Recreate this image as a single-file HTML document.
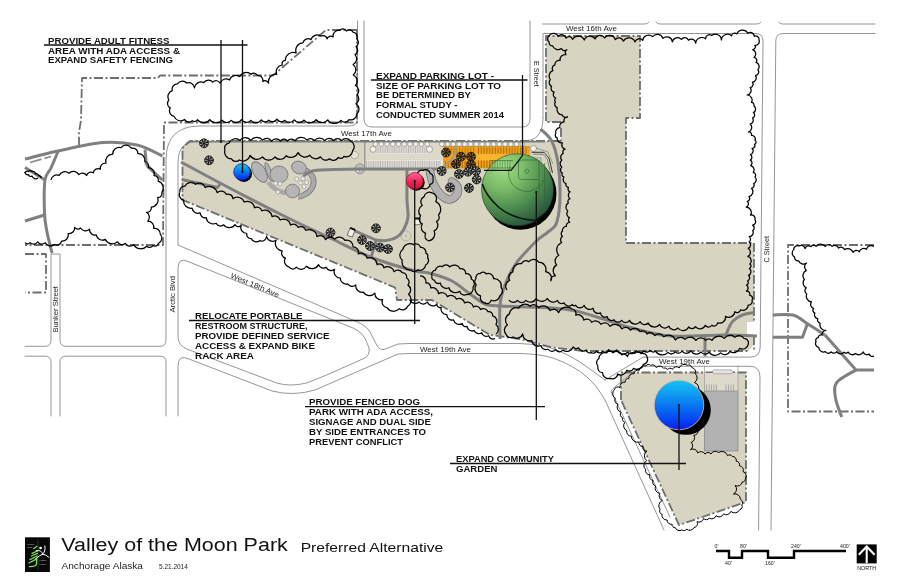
<!DOCTYPE html>
<html lang="en"><head><meta charset="utf-8"><title>Valley of the Moon Park - Preferred Alternative</title>
<style>html,body{margin:0;padding:0;background:#fff}svg{display:block;will-change:transform;font-family:"Liberation Sans",sans-serif}.ann text{font-weight:bold;font-family:"Liberation Sans",sans-serif}</style></head><body>
<svg width="900" height="579" viewBox="0 0 900 579">
<defs>
<linearGradient id="gBlue" x1="0.5" y1="0" x2="0.5" y2="1"><stop offset="0" stop-color="#12c6f6"/><stop offset="0.5" stop-color="#0a78f0"/><stop offset="1" stop-color="#0620f4"/></linearGradient>
<linearGradient id="gRed" x1="0.5" y1="0" x2="0.5" y2="1"><stop offset="0" stop-color="#ff6aa0"/><stop offset="0.5" stop-color="#f2285e"/><stop offset="1" stop-color="#d80836"/></linearGradient>
<radialGradient id="gGreen" cx="0.3" cy="0.2" r="0.92"><stop offset="0" stop-color="#a2da86"/><stop offset="0.3" stop-color="#7dbd6a"/><stop offset="0.6" stop-color="#4f8f50"/><stop offset="0.85" stop-color="#2f6140"/><stop offset="1" stop-color="#224a35"/></radialGradient>
<clipPath id="clipMap"><rect x="25" y="0" width="850" height="531"/></clipPath>
</defs>
<rect width="900" height="579" fill="#fff"/>
<polygon points="182.0,147.0 187.0,141.0 561.0,141.0 561.0,122.0 546.0,122.0 546.0,36.0 640.0,36.0 640.0,118.0 626.0,118.0 626.0,243.0 754.0,243.0 754.0,322.0 747.0,322.0 747.0,336.0 754.0,336.0 754.0,345.0 748.0,351.0 583.0,351.0 553.0,347.0 520.0,338.0 490.0,335.0 432.0,300.0 397.0,300.0 395.0,287.5 182.0,200.0" fill="#d7d4c1"/>
<polygon points="621.0,372.5 746.0,372.5 746.0,502.0 679.0,525.0 621.0,400.0" fill="#d7d4c1"/>
<g id="roads" fill="none" stroke="#8a8a8a" stroke-width="0.90" stroke-linecap="round" stroke-linejoin="round">
<path d="M542.5,24H645Q648,24 649,22"/>
<path d="M656,22Q657,24 660,24H757Q760,24 761,22"/>
<path d="M778.5,22Q779.5,24 782.5,24H875"/>
<path d="M543,118V33.5H756Q763,33.5 763,41L760.2,347Q760.1,357.1 750,357.1H643L635,362L605,380"/>
<path d="M875,33.5H783Q775.9,33.5 775.8,41L771,530"/>
<path d="M758.6,530L760,377Q760,366.3 750,366.3H645L637,369L613,388.5Q610,391 611.5,393.5L616,401L670,517"/>
<path d="M530,21V119Q530,127 522,127H372Q364,127 364,119V21"/>
<path d="M543,118Q543,141 524,141"/>
<path d="M357.5,21V118Q357.5,126 349.5,126H200Q166,126 166,160V340Q166,346.3 160,346.3H66Q60,346.3 60,340V254H51V340Q51,346.3 45,346.3H25"/>
<path d="M25,356.2H45Q51,356.2 51,362V416"/>
<path d="M60,416V362Q60,356.2 66,356.2H160Q166,356.2 166,362V416"/>
<path d="M178,245V162Q178,141 199,141"/>
<path d="M178,416V366Q178,354 189,359L272,391Q293,396.5 315,390L398,354L410,353.5H520Q540,354 553,358Q575,366 587,377Q596,385 600,392L605,400L664,530"/>
<path d="M178,245L356.7,321.7Q367,326 370,332L376.7,345Q379,350 384,349.5L398,344L410,343.5H520Q536,344 548,347Q570,354 587,367L605,380"/>
<path d="M178,268Q178,257 188,261.5L353,328Q364,333 367,343Q372,352 366,357.5L326.7,375L306.7,383Q290,387 276.7,383L188,349.5Q178,346 178,337Z"/>
</g>
<polyline points="357.0,30.0 340.0,30.0 326.0,30.0 273.0,75.5 160.0,75.5 158.0,78.0 82.0,78.0 81.0,120.0 79.0,132.0 79.0,148.0" fill="none" stroke="#6e6e6e" stroke-width="1.80" stroke-linejoin="round" stroke-dasharray="9 2.5 2 2.5"/>
<polyline points="357.0,30.0 357.0,122.5 164.0,122.5 163.0,245.0 25.0,245.0" fill="none" stroke="#6e6e6e" stroke-width="1.80" stroke-linejoin="round" stroke-dasharray="9 2.5 2 2.5"/>
<polyline points="25.0,254.0 46.0,254.0 46.0,292.5 25.0,292.5" fill="none" stroke="#6e6e6e" stroke-width="1.80" stroke-linejoin="round" stroke-dasharray="9 2.5 2 2.5"/>
<polyline points="561.0,141.0 190.0,141.0 182.5,148.0 182.5,200.0 395.0,287.5 397.0,300.0 432.0,300.0 490.0,335.0 520.0,339.0 553.0,347.5 583.0,351.0 748.0,351.0" fill="none" stroke="#6e6e6e" stroke-width="1.80" stroke-linejoin="round" stroke-dasharray="9 2.5 2 2.5"/>
<polyline points="561.0,128.0 561.0,141.0" fill="none" stroke="#6e6e6e" stroke-width="1.80" stroke-linejoin="round" stroke-dasharray="9 2.5 2 2.5"/>
<polyline points="561.0,122.0 546.0,122.0 546.0,36.0 640.0,36.0 640.0,118.0 626.0,118.0 626.0,243.0 754.0,243.0 754.0,322.0" fill="none" stroke="#6e6e6e" stroke-width="1.80" stroke-linejoin="round" stroke-dasharray="9 2.5 2 2.5"/>
<polyline points="754.0,336.0 754.0,350.0" fill="none" stroke="#6e6e6e" stroke-width="1.80" stroke-linejoin="round" stroke-dasharray="9 2.5 2 2.5"/>
<polyline points="874.0,245.0 788.0,245.0 788.0,411.5 874.0,411.5" fill="none" stroke="#6e6e6e" stroke-width="1.80" stroke-linejoin="round" stroke-dasharray="9 2.5 2 2.5"/>
<polyline points="621.0,400.0 621.0,372.5 746.0,372.5 746.0,502.0 679.0,525.0 621.0,400.0" fill="none" stroke="#6e6e6e" stroke-width="1.80" stroke-linejoin="round" stroke-dasharray="9 2.5 2 2.5"/>
<rect x="365" y="142.5" width="78" height="26.5" fill="#dcd9c9"/>
<rect x="443" y="146.5" width="87" height="21.5" fill="#f2a11a"/>
<rect x="476" y="153.5" width="52" height="7" fill="#f8b530"/>
<rect x="365.5" y="160.5" width="77" height="7.5" fill="#efeee8"/>
<rect x="376" y="146.8" width="53" height="6.6" fill="#efeee8"/>
<path d="M366.5,161.0V168.0M368.2,161.0V168.0M370.0,161.0V168.0M371.8,161.0V168.0M373.5,161.0V168.0M375.2,161.0V168.0M377.0,161.0V168.0M378.8,161.0V168.0M380.5,161.0V168.0M382.2,161.0V168.0M384.0,161.0V168.0M385.8,161.0V168.0M387.5,161.0V168.0M389.2,161.0V168.0M391.0,161.0V168.0M392.8,161.0V168.0M394.5,161.0V168.0M396.2,161.0V168.0M398.0,161.0V168.0M399.8,161.0V168.0M401.5,161.0V168.0M403.2,161.0V168.0M405.0,161.0V168.0M406.8,161.0V168.0M408.5,161.0V168.0M410.2,161.0V168.0M412.0,161.0V168.0M413.8,161.0V168.0M415.5,161.0V168.0M417.2,161.0V168.0M419.0,161.0V168.0M420.8,161.0V168.0M422.5,161.0V168.0M424.2,161.0V168.0M426.0,161.0V168.0M427.8,161.0V168.0M429.5,161.0V168.0M431.2,161.0V168.0M433.0,161.0V168.0M434.8,161.0V168.0M436.5,161.0V168.0M438.2,161.0V168.0M440.0,161.0V168.0" stroke="#8f8f8f" stroke-width="0.60" fill="none"/>
<path d="M377.0,147.0V153.0M378.8,147.0V153.0M380.5,147.0V153.0M382.2,147.0V153.0M384.0,147.0V153.0M385.8,147.0V153.0M387.5,147.0V153.0M389.2,147.0V153.0M391.0,147.0V153.0M392.8,147.0V153.0M394.5,147.0V153.0M396.2,147.0V153.0M398.0,147.0V153.0M399.8,147.0V153.0M401.5,147.0V153.0M403.2,147.0V153.0M405.0,147.0V153.0M406.8,147.0V153.0M408.5,147.0V153.0M410.2,147.0V153.0M412.0,147.0V153.0M413.8,147.0V153.0M415.5,147.0V153.0M417.2,147.0V153.0M419.0,147.0V153.0M420.8,147.0V153.0M422.5,147.0V153.0M424.2,147.0V153.0M426.0,147.0V153.0M427.8,147.0V153.0" stroke="#8f8f8f" stroke-width="0.60" fill="none"/>
<path d="M445.5,161.0V168.0M448.3,161.0V168.0M451.1,161.0V168.0M453.9,161.0V168.0M456.7,161.0V168.0M459.5,161.0V168.0M462.3,161.0V168.0M465.1,161.0V168.0M467.9,161.0V168.0M470.7,161.0V168.0M473.5,161.0V168.0" stroke="#a86800" stroke-width="0.90" fill="none"/>
<path d="M478.5,147.5V154.0M481.3,147.5V154.0M484.1,147.5V154.0M486.9,147.5V154.0M489.7,147.5V154.0M492.5,147.5V154.0M495.3,147.5V154.0M498.1,147.5V154.0M500.9,147.5V154.0M503.7,147.5V154.0M506.5,147.5V154.0M509.3,147.5V154.0M512.1,147.5V154.0M514.9,147.5V154.0M517.7,147.5V154.0M520.5,147.5V154.0M523.3,147.5V154.0M526.1,147.5V154.0" stroke="#a86800" stroke-width="0.90" fill="none"/>
<path d="M478.5,160.5V167.5M481.3,160.5V167.5M484.1,160.5V167.5M486.9,160.5V167.5M489.7,160.5V167.5M492.5,160.5V167.5M495.3,160.5V167.5M498.1,160.5V167.5M500.9,160.5V167.5M503.7,160.5V167.5M506.5,160.5V167.5M509.3,160.5V167.5M512.1,160.5V167.5M514.9,160.5V167.5M517.7,160.5V167.5M520.5,160.5V167.5M523.3,160.5V167.5M526.1,160.5V167.5" stroke="#a86800" stroke-width="0.90" fill="none"/>
<path d="M445.5,147.5V154.0M448.3,147.5V154.0M451.1,147.5V154.0M453.9,147.5V154.0M456.7,147.5V154.0M459.5,147.5V154.0M462.3,147.5V154.0M465.1,147.5V154.0M467.9,147.5V154.0M470.7,147.5V154.0M473.5,147.5V154.0" stroke="#b87400" stroke-width="0.90" fill="none"/>
<polyline points="364.8,141.5 364.8,169.0" fill="none" stroke="#8a8a8a" stroke-width="1.20" stroke-linejoin="round" />
<polyline points="443.0,146.5 530.0,146.5" fill="none" stroke="#c98500" stroke-width="0.70" stroke-linejoin="round" />
<polyline points="443.0,168.0 530.0,168.0" fill="none" stroke="#c98500" stroke-width="0.70" stroke-linejoin="round" />
<polyline points="189.0,141.6 545.0,141.6" fill="none" stroke="#7d7d7d" stroke-width="1.70" stroke-linejoin="round" />
<circle cx="375.5" cy="144.2" r="2.3" fill="#f4f3ee" stroke="#777" stroke-width="0.6"/>
<circle cx="381.2" cy="144.2" r="2.3" fill="#f4f3ee" stroke="#777" stroke-width="0.6"/>
<circle cx="387.0" cy="144.2" r="2.3" fill="#f4f3ee" stroke="#777" stroke-width="0.6"/>
<circle cx="392.8" cy="144.2" r="2.3" fill="#f4f3ee" stroke="#777" stroke-width="0.6"/>
<circle cx="398.5" cy="144.2" r="2.3" fill="#f4f3ee" stroke="#777" stroke-width="0.6"/>
<circle cx="404.2" cy="144.2" r="2.3" fill="#f4f3ee" stroke="#777" stroke-width="0.6"/>
<circle cx="410.0" cy="144.2" r="2.3" fill="#f4f3ee" stroke="#777" stroke-width="0.6"/>
<circle cx="415.8" cy="144.2" r="2.3" fill="#f4f3ee" stroke="#777" stroke-width="0.6"/>
<circle cx="421.5" cy="144.2" r="2.3" fill="#f4f3ee" stroke="#777" stroke-width="0.6"/>
<circle cx="427.2" cy="144.2" r="2.3" fill="#f4f3ee" stroke="#777" stroke-width="0.6"/>
<circle cx="441.8" cy="144.2" r="2.3" fill="#f4f3ee" stroke="#777" stroke-width="0.6"/>
<circle cx="447.6" cy="144.2" r="2.3" fill="#f4f3ee" stroke="#777" stroke-width="0.6"/>
<circle cx="453.3" cy="144.2" r="2.3" fill="#f4f3ee" stroke="#777" stroke-width="0.6"/>
<circle cx="459.1" cy="144.2" r="2.3" fill="#f4f3ee" stroke="#777" stroke-width="0.6"/>
<circle cx="464.8" cy="144.2" r="2.3" fill="#f4f3ee" stroke="#777" stroke-width="0.6"/>
<circle cx="470.6" cy="144.2" r="2.3" fill="#f4f3ee" stroke="#777" stroke-width="0.6"/>
<circle cx="476.3" cy="144.2" r="2.3" fill="#f4f3ee" stroke="#777" stroke-width="0.6"/>
<circle cx="482.1" cy="144.2" r="2.3" fill="#f4f3ee" stroke="#777" stroke-width="0.6"/>
<circle cx="487.8" cy="144.2" r="2.3" fill="#f4f3ee" stroke="#777" stroke-width="0.6"/>
<circle cx="493.6" cy="144.2" r="2.3" fill="#f4f3ee" stroke="#777" stroke-width="0.6"/>
<circle cx="499.3" cy="144.2" r="2.3" fill="#f4f3ee" stroke="#777" stroke-width="0.6"/>
<circle cx="505.1" cy="144.2" r="2.3" fill="#f4f3ee" stroke="#777" stroke-width="0.6"/>
<circle cx="510.8" cy="144.2" r="2.3" fill="#f4f3ee" stroke="#777" stroke-width="0.6"/>
<circle cx="516.5" cy="144.2" r="2.3" fill="#f4f3ee" stroke="#777" stroke-width="0.6"/>
<circle cx="522.3" cy="144.2" r="2.3" fill="#f4f3ee" stroke="#777" stroke-width="0.6"/>
<circle cx="373.0" cy="149.3" r="3" fill="#f4f3ee" stroke="#777" stroke-width="0.6"/>
<circle cx="429.5" cy="149.3" r="3" fill="#f4f3ee" stroke="#777" stroke-width="0.6"/>
<circle cx="533.5" cy="148.5" r="3" fill="#f4f3ee" stroke="#777" stroke-width="0.6"/>
<path d="M305,170Q315,175 313.5,184Q311,194 298,197" fill="none" stroke="#767676" stroke-width="5.60" stroke-linejoin="round" />
<path d="M305,170Q315,175 313.5,184Q311,194 298,197" fill="none" stroke="#aaaaaa" stroke-width="4.20" stroke-linejoin="round" />
<path d="M268,182Q274,191 286,193" fill="none" stroke="#a9a9a9" stroke-width="4.50" stroke-linejoin="round" />
<ellipse cx="259.5" cy="172.0" rx="6.0" ry="11.5" transform="rotate(-32 259.5 172.0)" fill="#b5b5b5" stroke="#787878" stroke-width="0.90"/>
<ellipse cx="269.0" cy="172.0" rx="2.4" ry="10.0" transform="rotate(-20 269.0 172.0)" fill="#b5b5b5" stroke="#787878" stroke-width="0.90"/>
<ellipse cx="279.0" cy="174.5" rx="9.0" ry="8.5" transform="rotate(0 279.0 174.5)" fill="#b5b5b5" stroke="#787878" stroke-width="0.90"/>
<ellipse cx="299.0" cy="167.5" rx="7.5" ry="6.2" transform="rotate(20 299.0 167.5)" fill="#b5b5b5" stroke="#787878" stroke-width="0.90"/>
<ellipse cx="292.5" cy="191.0" rx="7.0" ry="6.8" transform="rotate(0 292.5 191.0)" fill="#b5b5b5" stroke="#787878" stroke-width="0.90"/>
<circle cx="296.7" cy="179.0" r="2" fill="#efeee6" stroke="#7f7f7f" stroke-width="0.5"/>
<circle cx="303.0" cy="178.7" r="2" fill="#efeee6" stroke="#7f7f7f" stroke-width="0.5"/>
<circle cx="300.8" cy="183.0" r="2" fill="#efeee6" stroke="#7f7f7f" stroke-width="0.5"/>
<circle cx="306.7" cy="182.5" r="2" fill="#efeee6" stroke="#7f7f7f" stroke-width="0.5"/>
<circle cx="304.0" cy="186.5" r="2" fill="#efeee6" stroke="#7f7f7f" stroke-width="0.5"/>
<circle cx="275.8" cy="183.3" r="2" fill="#efeee6" stroke="#7f7f7f" stroke-width="0.5"/>
<circle cx="280.0" cy="183.7" r="2" fill="#efeee6" stroke="#7f7f7f" stroke-width="0.5"/>
<circle cx="278.0" cy="192.0" r="2" fill="#efeee6" stroke="#7f7f7f" stroke-width="0.5"/>
<ellipse cx="360.0" cy="168.8" rx="5.0" ry="5.0" transform="rotate(0 360.0 168.8)" fill="#bdbdbd" stroke="#858585" stroke-width="0.80"/>
<circle cx="354.7" cy="155" r="3.8" fill="#e6e4d8" stroke="#8a8a8a" stroke-width="0.6"/>
<circle cx="357.5" cy="171" r="1.6" fill="#e6e4d8" stroke="#8a8a8a" stroke-width="0.5"/>
<circle cx="406" cy="236" r="5" fill="none" stroke="#9a9a9a" stroke-width="0.6"/>
<circle cx="406" cy="236" r="0.8" fill="#9a9a9a"/>
<path d="M25.0,159.0C30.5,157.7 45.0,153.8 58.0,151.0C71.0,148.2 89.8,143.5 103.0,142.5C116.2,141.5 127.1,142.8 137.0,145.0C146.9,147.2 158.2,154.2 162.5,156.0" fill="none" stroke="#808080" stroke-width="3.00" stroke-linejoin="round" />
<path d="M58.0,151.5C56.8,154.2 53.2,163.2 51.0,168.0C48.8,172.8 46.1,172.5 45.0,180.0C43.9,187.5 44.2,204.3 44.5,213.0C44.8,221.7 45.8,225.3 47.0,232.0C48.2,238.7 51.2,249.5 52.0,253.0" fill="none" stroke="#808080" stroke-width="3.00" stroke-linejoin="round" />
<polyline points="25.0,167.5 45.0,180.0" fill="none" stroke="#808080" stroke-width="3.00" stroke-linejoin="round" />
<polyline points="25.0,221.0 44.5,215.0" fill="none" stroke="#808080" stroke-width="3.00" stroke-linejoin="round" />
<polyline points="30.0,162.5 51.0,156.5" fill="none" stroke="#8a8a8a" stroke-width="1.80" stroke-linejoin="round" stroke-dasharray="12 3"/>
<path d="M145.0,149.5C145.2,151.2 145.6,157.2 146.0,160.0C146.4,162.8 144.8,162.7 147.5,166.0C150.2,169.3 160.0,177.7 162.5,180.0" fill="none" stroke="#808080" stroke-width="3.00" stroke-linejoin="round" />
<path d="M181.0,162.0C187.5,165.5 203.5,174.3 220.0,183.0C236.5,191.7 261.7,204.8 280.0,214.0C298.3,223.2 314.5,230.7 330.0,238.0C345.5,245.3 358.8,252.5 373.0,258.0C387.2,263.5 405.7,268.5 415.0,271.0C424.3,273.5 422.8,271.3 429.0,273.0C435.2,274.7 445.2,277.5 452.0,281.0C458.8,284.5 464.5,290.2 470.0,294.0C475.5,297.8 480.0,302.0 485.0,304.0C490.0,306.0 486.8,305.2 500.0,306.0C513.2,306.8 547.3,307.0 564.0,309.0C580.7,311.0 589.0,314.9 600.0,318.0C611.0,321.1 618.3,324.5 630.0,327.5C641.7,330.5 654.2,334.8 670.0,336.0C685.8,337.2 710.5,335.0 725.0,335.0C739.5,335.0 751.7,335.8 757.0,336.0" fill="none" stroke="#808080" stroke-width="3.00" stroke-linejoin="round" />
<polyline points="181.7,179.5 217.5,187.5 220.5,183.3" fill="none" stroke="#808080" stroke-width="3.00" stroke-linejoin="round" />
<path d="M303.0,176.0C304.2,175.3 307.2,173.0 310.0,172.0C312.8,171.0 311.7,170.5 320.0,170.0C328.3,169.5 345.5,169.2 360.0,169.0C374.5,168.8 393.7,169.0 407.0,169.0C420.3,169.0 434.5,169.0 440.0,169.0" fill="none" stroke="#808080" stroke-width="3.00" stroke-linejoin="round" />
<path d="M407.0,169.0C407.0,174.2 406.8,192.0 407.0,200.0C407.2,208.0 408.5,212.2 408.0,217.0C407.5,221.8 405.8,225.7 404.0,229.0C402.2,232.3 400.0,235.1 397.0,237.0C394.0,238.9 389.5,240.0 386.0,240.5C382.5,241.0 377.7,240.1 376.0,240.0" fill="none" stroke="#808080" stroke-width="3.00" stroke-linejoin="round" />
<polyline points="376.0,241.0 371.0,257.5" fill="none" stroke="#808080" stroke-width="3.00" stroke-linejoin="round" />
<polyline points="377.0,240.5 353.0,230.0" fill="none" stroke="#808080" stroke-width="3.00" stroke-linejoin="round" />
<path d="M540.5,129.0C542.4,131.0 548.8,135.3 551.7,141.0C554.6,146.7 556.6,153.7 558.0,163.0C559.4,172.3 560.2,187.0 560.0,197.0C559.8,207.0 558.5,217.2 556.5,223.0C554.5,228.8 551.2,229.2 548.0,232.0C544.8,234.8 541.5,236.3 537.5,240.0C533.5,243.7 527.8,249.8 524.0,254.0C520.2,258.2 518.2,259.8 515.0,265.0C511.8,270.2 507.5,278.3 505.0,285.0C502.5,291.7 500.8,296.0 500.0,305.0C499.2,314.0 500.0,333.3 500.0,339.0" fill="none" stroke="#808080" stroke-width="3.00" stroke-linejoin="round" />
<path d="M456.5,146.5C455.9,148.4 455.6,154.3 453.0,158.0C450.4,161.7 443.0,166.8 441.0,168.5" fill="none" stroke="#9a9a9a" stroke-width="1.80" stroke-linejoin="round" />
<path d="M755.0,312.5C752.9,312.9 746.2,313.6 742.5,315.0C738.8,316.4 735.2,318.9 733.0,321.0C730.8,323.1 730.2,325.2 729.0,327.5C727.8,329.8 726.5,333.8 726.0,335.0" fill="none" stroke="#808080" stroke-width="3.00" stroke-linejoin="round" />
<polyline points="705.0,336.0 705.0,356.5" fill="none" stroke="#808080" stroke-width="3.00" stroke-linejoin="round" />
<path d="M773.0,315.0C776.3,315.0 787.2,313.5 793.0,315.0C798.8,316.5 802.7,320.7 808.0,324.0C813.3,327.3 822.2,333.2 825.0,335.0" fill="none" stroke="#808080" stroke-width="3.00" stroke-linejoin="round" />
<polyline points="825.0,335.0 856.0,370.0 874.0,370.0" fill="none" stroke="#808080" stroke-width="3.00" stroke-linejoin="round" />
<polyline points="772.8,337.3 802.5,337.3 807.5,323.5" fill="none" stroke="#808080" stroke-width="3.00" stroke-linejoin="round" />
<path d="M856.0,370.0C852.8,372.1 840.1,377.8 836.7,382.5C833.3,387.2 834.7,392.2 835.5,398.0C836.3,403.8 840.7,413.8 841.7,417.0" fill="none" stroke="#808080" stroke-width="3.00" stroke-linejoin="round" />
<path d="M430.0,172.0C430.5,173.8 431.3,179.3 433.0,183.0C434.7,186.7 437.3,191.2 440.0,194.0C442.7,196.8 446.2,199.3 449.0,199.5C451.8,199.7 455.1,197.1 456.5,195.0C457.9,192.9 458.2,189.2 457.5,187.0C456.8,184.8 452.9,182.4 452.0,181.5" fill="none" stroke="#6a6a6a" stroke-width="8.60" stroke-linejoin="round" stroke-linecap="round"/>
<path d="M430.0,172.0C430.5,173.8 431.3,179.3 433.0,183.0C434.7,186.7 437.3,191.2 440.0,194.0C442.7,196.8 446.2,199.3 449.0,199.5C451.8,199.7 455.1,197.1 456.5,195.0C457.9,192.9 458.2,189.2 457.5,187.0C456.8,184.8 452.9,182.4 452.0,181.5" fill="none" stroke="#b2b2b2" stroke-width="7.20" stroke-linejoin="round" stroke-linecap="round"/>
<g transform="translate(351.3,232.5) rotate(22)"><rect x="-2.8" y="-4.0" width="5.5" height="8.0" fill="#f2f1ea" stroke="#333" stroke-width="0.6"/><rect x="-2.8" y="-4.8" width="5.5" height="2.0" fill="#111"/></g>
<g transform="translate(417.5,221.5) rotate(0)"><rect x="-2.8" y="-3.2" width="5.5" height="6.5" fill="#f2f1ea" stroke="#333" stroke-width="0.6"/><rect x="-2.8" y="-4.0" width="5.5" height="2.0" fill="#111"/></g>
<g transform="translate(204.0,143.3)">
<circle r="4.4" fill="#ecebe2" fill-opacity="1.00" stroke="#111" stroke-width="0.9"/>
<path d="M0,0L-4.1,0.6L-3.9,-1.5ZM0,0L-3.1,-2.8L-1.2,-4.0ZM0,0L0.3,-4.2L2.3,-3.5ZM0,0L3.5,-2.4L4.2,-0.3ZM0,0L4.0,1.2L2.9,3.1ZM0,0L1.5,3.9L-0.6,4.1ZM0,0L-2.1,3.6L-3.6,2.1Z" fill="#111" stroke="#111" stroke-width="0.3"/>
</g>
<g transform="translate(209.0,160.3)">
<circle r="4.4" fill="#ecebe2" fill-opacity="1.00" stroke="#111" stroke-width="0.9"/>
<path d="M0,0L-3.2,2.7L-4.1,0.7ZM0,0L-4.1,-0.8L-3.1,-2.8ZM0,0L-1.9,-3.7L0.2,-4.2ZM0,0L1.7,-3.8L3.4,-2.4ZM0,0L4.1,-1.0L4.0,1.1ZM0,0L3.3,2.5L1.6,3.9ZM0,0L0.1,4.2L-2.0,3.7Z" fill="#111" stroke="#111" stroke-width="0.3"/>
</g>
<g transform="translate(330.5,232.5)">
<circle r="4.4" fill="#ecebe2" fill-opacity="1.00" stroke="#111" stroke-width="0.9"/>
<path d="M0,0L-1.3,4.0L-3.1,2.8ZM0,0L-3.9,1.5L-4.1,-0.6ZM0,0L-3.6,-2.1L-2.1,-3.6ZM0,0L-0.6,-4.1L1.5,-3.9ZM0,0L2.9,-3.0L4.0,-1.2ZM0,0L4.2,0.3L3.4,2.4ZM0,0L2.3,3.5L0.3,4.2Z" fill="#111" stroke="#111" stroke-width="0.3"/>
</g>
<g transform="translate(376.0,228.3)">
<circle r="4.4" fill="#ecebe2" fill-opacity="1.00" stroke="#111" stroke-width="0.9"/>
<path d="M0,0L-2.1,3.6L-3.6,2.1ZM0,0L-4.1,0.6L-3.9,-1.6ZM0,0L-3.0,-2.9L-1.2,-4.0ZM0,0L0.4,-4.2L2.4,-3.4ZM0,0L3.5,-2.3L4.2,-0.3ZM0,0L4.0,1.3L2.8,3.1ZM0,0L1.5,3.9L-0.7,4.1Z" fill="#111" stroke="#111" stroke-width="0.3"/>
</g>
<g transform="translate(362.0,240.0)">
<circle r="4.4" fill="#ecebe2" fill-opacity="1.00" stroke="#111" stroke-width="0.9"/>
<path d="M0,0L-1.6,3.9L-3.3,2.6ZM0,0L-4.0,1.2L-4.1,-1.0ZM0,0L-3.4,-2.4L-1.8,-3.8ZM0,0L-0.3,-4.2L1.8,-3.7ZM0,0L3.1,-2.8L4.1,-0.9ZM0,0L4.1,0.7L3.2,2.6ZM0,0L2.0,3.6L-0.0,4.2Z" fill="#111" stroke="#111" stroke-width="0.3"/>
</g>
<g transform="translate(370.0,246.0)">
<circle r="4.4" fill="#ecebe2" fill-opacity="1.00" stroke="#111" stroke-width="0.9"/>
<path d="M0,0L-3.3,-2.5L-1.6,-3.9ZM0,0L-0.1,-4.2L2.0,-3.7ZM0,0L3.2,-2.7L4.1,-0.7ZM0,0L4.1,0.9L3.1,2.8ZM0,0L1.9,3.7L-0.2,4.2ZM0,0L-1.7,3.8L-3.4,2.4ZM0,0L-4.1,1.0L-4.0,-1.1Z" fill="#111" stroke="#111" stroke-width="0.3"/>
</g>
<g transform="translate(380.0,247.5)">
<circle r="4.4" fill="#ecebe2" fill-opacity="1.00" stroke="#111" stroke-width="0.9"/>
<path d="M0,0L3.9,-1.5L4.1,0.7ZM0,0L3.6,2.1L2.1,3.6ZM0,0L0.6,4.1L-1.6,3.9ZM0,0L-2.9,3.0L-4.0,1.2ZM0,0L-4.2,-0.4L-3.4,-2.4ZM0,0L-2.3,-3.5L-0.3,-4.2ZM0,0L1.3,-4.0L3.1,-2.8Z" fill="#111" stroke="#111" stroke-width="0.3"/>
</g>
<g transform="translate(388.0,249.0)">
<circle r="4.4" fill="#ecebe2" fill-opacity="1.00" stroke="#111" stroke-width="0.9"/>
<path d="M0,0L-4.2,-0.1L-3.6,-2.2ZM0,0L-2.5,-3.3L-0.5,-4.1ZM0,0L1.0,-4.0L2.9,-3.0ZM0,0L3.8,-1.7L4.2,0.4ZM0,0L3.7,1.9L2.3,3.5ZM0,0L0.8,4.1L-1.3,4.0ZM0,0L-2.7,3.2L-3.9,1.4Z" fill="#111" stroke="#111" stroke-width="0.3"/>
</g>
<g transform="translate(446.0,152.5)">
<circle r="4.4" fill="#ecebe2" fill-opacity="0.15" stroke="#111" stroke-width="0.9"/>
<path d="M0,0L-4.2,0.1L-3.7,-2.0ZM0,0L-2.7,-3.2L-0.7,-4.1ZM0,0L0.8,-4.1L2.8,-3.1ZM0,0L3.7,-1.9L4.2,0.2ZM0,0L3.8,1.7L2.4,3.4ZM0,0L1.0,4.1L-1.1,4.0ZM0,0L-2.5,3.3L-3.8,1.6Z" fill="#111" stroke="#111" stroke-width="0.3"/>
</g>
<g transform="translate(461.0,156.7)">
<circle r="4.4" fill="#ecebe2" fill-opacity="0.15" stroke="#111" stroke-width="0.9"/>
<path d="M0,0L-4.2,0.0L-3.6,-2.1ZM0,0L-2.6,-3.3L-0.7,-4.1ZM0,0L0.9,-4.1L2.8,-3.1ZM0,0L3.8,-1.8L4.2,0.3ZM0,0L3.8,1.8L2.4,3.4ZM0,0L1.0,4.1L-1.2,4.0ZM0,0L-2.6,3.3L-3.9,1.6Z" fill="#111" stroke="#111" stroke-width="0.3"/>
</g>
<g transform="translate(471.0,156.7)">
<circle r="4.4" fill="#ecebe2" fill-opacity="0.15" stroke="#111" stroke-width="0.9"/>
<path d="M0,0L-3.6,-2.0L-2.1,-3.6ZM0,0L-0.7,-4.1L1.5,-3.9ZM0,0L2.8,-3.1L4.0,-1.3ZM0,0L4.2,0.3L3.5,2.3ZM0,0L2.4,3.4L0.4,4.2ZM0,0L-1.2,4.0L-3.0,2.9ZM0,0L-3.9,1.6L-4.1,-0.6Z" fill="#111" stroke="#111" stroke-width="0.3"/>
</g>
<g transform="translate(456.0,164.0)">
<circle r="4.4" fill="#ecebe2" fill-opacity="0.15" stroke="#111" stroke-width="0.9"/>
<path d="M0,0L-4.0,1.3L-4.1,-0.9ZM0,0L-3.5,-2.3L-1.9,-3.7ZM0,0L-0.3,-4.2L1.8,-3.8ZM0,0L3.0,-2.9L4.1,-1.0ZM0,0L4.1,0.6L3.3,2.6ZM0,0L2.1,3.6L0.0,4.2ZM0,0L-1.5,3.9L-3.2,2.6Z" fill="#111" stroke="#111" stroke-width="0.3"/>
</g>
<g transform="translate(471.0,164.5)">
<circle r="4.4" fill="#ecebe2" fill-opacity="0.15" stroke="#111" stroke-width="0.9"/>
<path d="M0,0L-4.1,-0.9L-3.1,-2.8ZM0,0L-1.8,-3.8L0.3,-4.2ZM0,0L1.8,-3.8L3.4,-2.4ZM0,0L4.1,-0.9L4.0,1.2ZM0,0L3.3,2.6L1.5,3.9ZM0,0L0.0,4.2L-2.1,3.6ZM0,0L-3.3,2.6L-4.1,0.6Z" fill="#111" stroke="#111" stroke-width="0.3"/>
</g>
<g transform="translate(441.7,171.0)">
<circle r="4.4" fill="#ecebe2" fill-opacity="1.00" stroke="#111" stroke-width="0.9"/>
<path d="M0,0L0.1,-4.2L2.2,-3.6ZM0,0L3.3,-2.5L4.1,-0.5ZM0,0L4.1,1.0L3.0,2.9ZM0,0L1.7,3.8L-0.4,4.2ZM0,0L-1.9,3.7L-3.5,2.3ZM0,0L-4.1,0.8L-4.0,-1.3ZM0,0L-3.2,-2.7L-1.5,-3.9Z" fill="#111" stroke="#111" stroke-width="0.3"/>
</g>
<g transform="translate(459.0,174.0)">
<circle r="4.4" fill="#ecebe2" fill-opacity="1.00" stroke="#111" stroke-width="0.9"/>
<path d="M0,0L-2.6,3.3L-3.9,1.6ZM0,0L-4.2,0.0L-3.6,-2.1ZM0,0L-2.6,-3.3L-0.7,-4.1ZM0,0L0.9,-4.1L2.8,-3.1ZM0,0L3.8,-1.8L4.2,0.3ZM0,0L3.8,1.8L2.4,3.4ZM0,0L0.9,4.1L-1.2,4.0Z" fill="#111" stroke="#111" stroke-width="0.3"/>
</g>
<g transform="translate(468.0,171.7)">
<circle r="4.4" fill="#ecebe2" fill-opacity="1.00" stroke="#111" stroke-width="0.9"/>
<path d="M0,0L0.3,-4.2L2.3,-3.5ZM0,0L3.5,-2.4L4.2,-0.3ZM0,0L4.0,1.2L2.9,3.1ZM0,0L1.5,3.9L-0.6,4.1ZM0,0L-2.1,3.6L-3.6,2.1ZM0,0L-4.1,0.6L-3.9,-1.5ZM0,0L-3.1,-2.8L-1.2,-4.0Z" fill="#111" stroke="#111" stroke-width="0.3"/>
</g>
<g transform="translate(476.0,171.0)">
<circle r="4.4" fill="#ecebe2" fill-opacity="1.00" stroke="#111" stroke-width="0.9"/>
<path d="M0,0L2.1,-3.6L3.6,-2.1ZM0,0L4.1,-0.6L3.9,1.6ZM0,0L3.0,2.9L1.2,4.0ZM0,0L-0.4,4.2L-2.4,3.4ZM0,0L-3.5,2.3L-4.2,0.3ZM0,0L-4.0,-1.3L-2.8,-3.1ZM0,0L-1.5,-3.9L0.7,-4.1Z" fill="#111" stroke="#111" stroke-width="0.3"/>
</g>
<g transform="translate(476.7,179.5)">
<circle r="4.4" fill="#ecebe2" fill-opacity="1.00" stroke="#111" stroke-width="0.9"/>
<path d="M0,0L1.1,-4.0L2.9,-3.0ZM0,0L3.8,-1.7L4.2,0.5ZM0,0L3.7,2.0L2.2,3.5ZM0,0L0.8,4.1L-1.4,4.0ZM0,0L-2.7,3.2L-3.9,1.4ZM0,0L-4.2,-0.2L-3.5,-2.2ZM0,0L-2.5,-3.4L-0.5,-4.2Z" fill="#111" stroke="#111" stroke-width="0.3"/>
</g>
<g transform="translate(469.0,188.0)">
<circle r="4.4" fill="#ecebe2" fill-opacity="1.00" stroke="#111" stroke-width="0.9"/>
<path d="M0,0L3.3,-2.6L4.1,-0.6ZM0,0L4.1,1.0L3.1,2.9ZM0,0L1.8,3.8L-0.3,4.2ZM0,0L-1.8,3.8L-3.5,2.3ZM0,0L-4.1,0.9L-4.0,-1.2ZM0,0L-3.3,-2.6L-1.5,-3.9ZM0,0L0.0,-4.2L2.1,-3.6Z" fill="#111" stroke="#111" stroke-width="0.3"/>
</g>
<g transform="translate(450.0,187.5)">
<circle r="4.4" fill="#ecebe2" fill-opacity="1.00" stroke="#111" stroke-width="0.9"/>
<path d="M0,0L4.1,0.8L3.2,2.7ZM0,0L1.9,3.7L-0.2,4.2ZM0,0L-1.7,3.8L-3.4,2.5ZM0,0L-4.0,1.0L-4.0,-1.1ZM0,0L-3.3,-2.5L-1.6,-3.8ZM0,0L-0.1,-4.2L2.0,-3.7ZM0,0L3.2,-2.7L4.1,-0.8Z" fill="#111" stroke="#111" stroke-width="0.3"/>
</g>
<rect x="704.5" y="373" width="33.5" height="18" fill="#dedbcd"/>
<rect x="704.5" y="391" width="33.5" height="60" fill="#b2b2b2" stroke="#8c8c8c" stroke-width="0.8"/>
<path d="M706.5,384.5V390.5M709.0,384.5V390.5M711.5,384.5V390.5M714.0,384.5V390.5M716.5,384.5V390.5" stroke="#8a8a8a" stroke-width="0.60" fill="none"/>
<path d="M726.0,384.5V390.5M728.5,384.5V390.5M731.0,384.5V390.5M733.5,384.5V390.5" stroke="#8a8a8a" stroke-width="0.60" fill="none"/>
<polyline points="704.5,365.5 704.5,391.0" fill="none" stroke="#9a9a9a" stroke-width="0.70" stroke-linejoin="round" />
<polyline points="738.0,365.5 738.0,391.0" fill="none" stroke="#9a9a9a" stroke-width="0.70" stroke-linejoin="round" />
<rect x="712.5" y="369.8" width="20" height="4" rx="2" fill="#e3e3e3" stroke="#8a8a8a" stroke-width="0.6"/>
<path d="M169.0,100.0A6.1,6.1 0 0 1 172.3,90.7A5.4,5.4 0 0 1 177.6,83.8A5.6,5.6 0 0 1 186.7,83.0A5.6,5.6 0 0 1 194.4,87.8A6.7,6.7 0 0 1 203.8,82.6A5.6,5.6 0 0 1 212.8,82.1A4.6,4.6 0 0 1 220.2,83.2A6.1,6.1 0 0 1 229.5,80.0A6.7,6.7 0 0 1 239.7,76.5A7.2,7.2 0 0 1 251.1,74.3A3.9,3.9 0 0 1 257.3,75.4A5.1,5.1 0 0 1 262.8,81.5A3.7,3.7 0 0 1 268.6,83.2A7.5,7.5 0 0 1 276.8,74.3A6.7,6.7 0 0 1 282.3,65.0A3.4,3.4 0 0 1 285.3,60.3A8.2,8.2 0 0 1 296.2,52.8A7.5,7.5 0 0 1 302.9,42.8A5.4,5.4 0 0 1 311.0,39.6A6.3,6.3 0 0 1 320.7,36.1A4.4,4.4 0 0 1 327.1,38.9A3.9,3.9 0 0 1 333.1,36.9A5.9,5.9 0 0 1 339.8,30.2A4.1,4.1 0 0 1 346.4,31.0A4.2,4.2 0 0 1 353.1,32.2A4.8,4.8 0 0 1 356.8,39.0A4.8,4.8 0 0 1 356.1,46.6A5.0,5.0 0 0 1 355.0,54.6A6.3,6.3 0 0 1 353.1,64.5A6.5,6.5 0 0 1 353.3,75.0A6.6,6.6 0 0 1 355.4,85.5A5.9,5.9 0 0 1 357.1,94.8A5.6,5.6 0 0 1 355.9,103.7A6.7,6.7 0 0 1 356.7,114.4A5.8,5.8 0 0 1 349.1,119.6A5.0,5.0 0 0 1 341.0,120.3A8.2,8.2 0 0 1 327.8,119.8A7.2,7.2 0 0 1 316.2,119.7A7.6,7.6 0 0 1 304.0,120.1A6.0,6.0 0 0 1 294.3,119.8A5.8,5.8 0 0 1 284.9,120.3A5.1,5.1 0 0 1 276.9,119.1A5.1,5.1 0 0 1 268.7,120.1A4.6,4.6 0 0 1 261.3,119.9A6.5,6.5 0 0 1 250.8,120.3A5.8,5.8 0 0 1 241.5,119.7A6.4,6.4 0 0 1 231.2,120.3A5.7,5.7 0 0 1 222.0,120.1A7.6,7.6 0 0 1 209.8,119.6A7.7,7.7 0 0 1 197.4,119.7A3.3,3.3 0 0 1 192.2,120.6A4.9,4.9 0 0 1 184.4,119.4A6.7,6.7 0 0 1 174.1,116.4A5.8,5.8 0 0 1 170.2,107.9A4.9,4.9 0 0 1 169.0,100.0" fill="none" stroke="#000" stroke-width="1.25" stroke-linejoin="round"/>
<path d="M51.0,180.0A5.8,5.8 0 0 1 59.1,175.5A6.3,6.3 0 0 1 68.9,173.2A6.2,6.2 0 0 1 78.9,174.6A4.8,4.8 0 0 1 86.6,175.5A4.5,4.5 0 0 1 93.3,172.8A4.9,4.9 0 0 1 100.4,169.1A5.1,5.1 0 0 1 106.0,163.1A6.9,6.9 0 0 1 112.7,154.2A6.6,6.6 0 0 1 121.0,147.6A6.3,6.3 0 0 1 131.3,148.2A5.3,5.3 0 0 1 137.9,153.6A6.5,6.5 0 0 1 144.7,161.5A4.5,4.5 0 0 1 148.3,167.7A6.0,6.0 0 0 1 154.0,175.6A4.3,4.3 0 0 1 158.2,181.2A7.4,7.4 0 0 1 161.9,192.5A4.0,4.0 0 0 1 157.7,197.5A7.1,7.1 0 0 1 151.3,207.0A4.4,4.4 0 0 1 146.4,212.3A5.5,5.5 0 0 1 147.7,221.1A5.9,5.9 0 0 1 153.6,228.5A5.5,5.5 0 0 1 160.3,234.2A5.9,5.9 0 0 1 158.4,243.5A3.5,3.5 0 0 1 153.1,245.4A4.0,4.0 0 0 1 146.7,246.2A8.1,8.1 0 0 1 133.7,244.6A5.2,5.2 0 0 1 125.4,243.3A5.0,5.0 0 0 1 117.5,241.8A7.7,7.7 0 0 1 105.4,239.4A6.3,6.3 0 0 1 96.2,234.9A5.5,5.5 0 0 1 89.5,229.1A5.7,5.7 0 0 1 80.5,228.0A3.7,3.7 0 0 1 74.6,227.3A5.6,5.6 0 0 1 68.2,233.6A6.2,6.2 0 0 1 61.6,241.1A4.9,4.9 0 0 1 54.4,244.5A5.8,5.8 0 0 1 45.3,242.7A4.7,4.7 0 0 1 37.7,241.8A4.7,4.7 0 0 1 30.1,242.6A3.2,3.2 0 0 1 25.0,242.5" fill="none" stroke="#000" stroke-width="1.25" stroke-linejoin="round"/>
<path d="M25.0,172.0A2.8,2.8 0 0 0 28.5,174.7A2.4,2.4 0 0 0 32.1,176.1A3.8,3.8 0 0 0 38.0,178.0" fill="none" stroke="#000" stroke-width="1.25" stroke-linejoin="round"/>
<path d="M25.0,173.0A2.3,2.3 0 0 1 28.5,171.5A2.4,2.4 0 0 1 32.3,171.6A2.3,2.3 0 0 1 35.3,173.9A2.3,2.3 0 0 1 38.5,175.7A2.1,2.1 0 0 1 41.0,178.0" fill="none" stroke="#000" stroke-width="1.25" stroke-linejoin="round"/>
<path d="M225.0,150.0A4.9,4.9 0 0 1 228.9,143.2A7.0,7.0 0 0 1 239.9,140.4A6.7,6.7 0 0 1 250.7,140.5A7.5,7.5 0 0 1 262.7,140.1A5.6,5.6 0 0 1 271.6,141.3A5.4,5.4 0 0 1 280.3,141.0A4.5,4.5 0 0 1 287.5,141.0A4.8,4.8 0 0 1 295.1,140.8A7.4,7.4 0 0 1 307.0,140.1A4.6,4.6 0 0 1 314.4,140.7A6.4,6.4 0 0 1 324.7,140.7A5.5,5.5 0 0 1 333.5,140.6A5.0,5.0 0 0 1 341.6,140.6A5.7,5.7 0 0 1 350.8,141.3A5.9,5.9 0 0 1 352.6,150.7A6.4,6.4 0 0 1 343.9,156.4A3.5,3.5 0 0 1 338.3,157.4A5.6,5.6 0 0 1 329.4,158.8A5.7,5.7 0 0 1 320.5,156.8A6.7,6.7 0 0 1 309.8,155.2A7.5,7.5 0 0 1 298.1,152.6A7.7,7.7 0 0 1 286.1,155.7A6.9,6.9 0 0 1 274.9,157.0A7.7,7.7 0 0 1 262.4,156.9A7.7,7.7 0 0 1 250.1,155.4A7.3,7.3 0 0 1 239.3,160.0A4.9,4.9 0 0 1 231.5,158.9A6.8,6.8 0 0 1 225.0,150.0" fill="none" stroke="#000" stroke-width="1.25" stroke-linejoin="round"/>
<path d="M180.0,192.0A4.7,4.7 0 0 1 184.9,186.2A6.7,6.7 0 0 1 195.5,184.3A6.3,6.3 0 0 1 205.2,187.5A8.1,8.1 0 0 1 217.2,192.7A5.8,5.8 0 0 1 226.4,194.4A4.9,4.9 0 0 1 233.0,198.7A7.2,7.2 0 0 1 244.2,202.0A7.3,7.3 0 0 1 254.5,207.8A5.0,5.0 0 0 1 261.9,210.8A7.3,7.3 0 0 1 272.1,216.7A5.3,5.3 0 0 1 280.0,219.9A7.3,7.3 0 0 1 290.6,225.1A4.9,4.9 0 0 1 298.1,227.4A5.0,5.0 0 0 1 305.7,230.3A8.0,8.0 0 0 1 317.0,236.6A5.6,5.6 0 0 1 325.5,239.6A5.7,5.7 0 0 1 334.6,239.1A6.5,6.5 0 0 1 345.0,240.4A6.4,6.4 0 0 1 353.1,246.8A5.4,5.4 0 0 1 358.2,254.0A6.1,6.1 0 0 1 367.1,258.2A7.4,7.4 0 0 1 377.2,264.6A4.6,4.6 0 0 1 384.0,267.8A6.7,6.7 0 0 1 394.1,271.7A5.1,5.1 0 0 1 402.2,272.6A4.3,4.3 0 0 1 406.5,278.0A4.5,4.5 0 0 1 407.9,285.1A5.6,5.6 0 0 1 408.6,294.2A7.5,7.5 0 0 1 407.7,306.2A5.4,5.4 0 0 1 399.4,308.7A7.8,7.8 0 0 1 387.0,307.6A5.6,5.6 0 0 1 382.6,299.7A6.3,6.3 0 0 1 374.9,293.1A7.2,7.2 0 0 1 363.3,292.2A6.5,6.5 0 0 1 355.8,284.9A5.1,5.1 0 0 1 347.7,283.8A5.8,5.8 0 0 1 340.3,278.2A6.5,6.5 0 0 1 334.6,269.3A5.4,5.4 0 0 1 326.2,267.2A5.0,5.0 0 0 1 318.6,264.6A7.6,7.6 0 0 1 306.4,266.3A6.2,6.2 0 0 1 296.4,267.2A4.6,4.6 0 0 1 289.1,267.2A6.1,6.1 0 0 1 285.4,258.1A4.8,4.8 0 0 1 282.3,251.0A7.7,7.7 0 0 1 276.0,240.3A6.3,6.3 0 0 1 266.6,236.7A5.0,5.0 0 0 1 259.7,240.7A5.5,5.5 0 0 1 251.2,238.5A4.1,4.1 0 0 1 246.8,233.5A6.1,6.1 0 0 1 241.1,225.5A3.8,3.8 0 0 1 235.0,224.6A7.0,7.0 0 0 1 223.7,224.8A4.8,4.8 0 0 1 216.2,223.3A7.0,7.0 0 0 1 206.3,217.7A4.9,4.9 0 0 1 200.2,212.8A5.8,5.8 0 0 1 192.1,208.1A7.1,7.1 0 0 1 183.7,200.2A5.6,5.6 0 0 1 180.0,192.0" fill="none" stroke="#000" stroke-width="1.25" stroke-linejoin="round"/>
<path d="M427.4,257.5A4.8,4.8 0 0 1 425.6,265.0A5.8,5.8 0 0 1 417.6,269.9A4.0,4.0 0 0 1 411.1,270.0A8.3,8.3 0 0 1 402.2,260.1A6.6,6.6 0 0 1 402.7,249.5A7.5,7.5 0 0 1 413.7,244.6A4.5,4.5 0 0 1 420.5,247.4A4.9,4.9 0 0 1 425.8,253.2A2.8,2.8 0 0 1 427.4,257.5" fill="none" stroke="#000" stroke-width="1.25" stroke-linejoin="round"/>
<path d="M438.4,215.0A4.1,4.1 0 0 1 436.5,221.3A6.1,6.1 0 0 1 434.1,230.8A7.0,7.0 0 0 1 428.8,240.8A5.0,5.0 0 0 1 425.6,233.4A6.3,6.3 0 0 1 422.3,223.9A5.1,5.1 0 0 1 420.6,215.8A6.5,6.5 0 0 1 422.2,205.5A5.7,5.7 0 0 1 424.1,196.6A5.4,5.4 0 0 1 432.0,192.9A5.9,5.9 0 0 1 435.8,201.6A8.5,8.5 0 0 1 438.4,215.0" fill="none" stroke="#000" stroke-width="1.25" stroke-linejoin="round"/>
<path d="M432.8,178.5A4.1,4.1 0 0 1 430.0,184.4A4.9,4.9 0 0 1 423.1,188.4A5.5,5.5 0 0 1 417.0,181.9A4.2,4.2 0 0 1 417.1,175.2A4.7,4.7 0 0 1 423.1,170.4A4.9,4.9 0 0 1 430.3,173.6A3.4,3.4 0 0 1 432.8,178.5" fill="none" stroke="#000" stroke-width="1.25" stroke-linejoin="round"/>
<path d="M432.0,276.0A4.2,4.2 0 0 1 435.5,270.2A4.7,4.7 0 0 1 442.3,266.7A4.5,4.5 0 0 1 449.6,266.9A6.6,6.6 0 0 1 460.1,268.8A4.6,4.6 0 0 1 465.7,273.7A4.8,4.8 0 0 1 471.3,279.0A5.1,5.1 0 0 1 473.1,287.0A6.3,6.3 0 0 1 466.3,294.5A4.5,4.5 0 0 1 459.8,291.3A7.1,7.1 0 0 1 448.8,287.7A6.0,6.0 0 0 1 440.3,283.0A4.0,4.0 0 0 1 434.5,280.3A3.1,3.1 0 0 1 432.0,276.0" fill="none" stroke="#000" stroke-width="1.25" stroke-linejoin="round"/>
<path d="M476.0,279.0A4.3,4.3 0 0 1 480.2,273.5A3.7,3.7 0 0 1 486.2,273.8A5.5,5.5 0 0 1 493.6,278.6A7.2,7.2 0 0 1 501.1,287.5A5.2,5.2 0 0 1 499.9,295.7A6.1,6.1 0 0 1 491.2,300.2A4.1,4.1 0 0 1 485.2,303.1A5.4,5.4 0 0 1 480.6,295.8A7.4,7.4 0 0 1 476.2,284.6A3.5,3.5 0 0 1 476.0,279.0" fill="none" stroke="#000" stroke-width="1.25" stroke-linejoin="round"/>
<path d="M507.0,290.0A6.2,6.2 0 0 1 509.7,280.3A5.6,5.6 0 0 1 512.9,271.9A7.3,7.3 0 0 1 521.4,263.7A4.7,4.7 0 0 1 528.8,261.7A6.1,6.1 0 0 1 538.7,262.1A7.2,7.2 0 0 1 545.6,271.6A6.6,6.6 0 0 1 550.9,280.8A4.2,4.2 0 0 1 555.4,275.8A6.8,6.8 0 0 1 556.6,264.9A6.2,6.2 0 0 1 558.8,255.2A7.7,7.7 0 0 1 561.0,243.0" fill="none" stroke="#000" stroke-width="1.25" stroke-linejoin="round"/>
<path d="M509.0,300.0A5.3,5.3 0 0 0 517.5,300.4A5.2,5.2 0 0 0 525.9,300.4A6.5,6.5 0 0 0 536.1,298.6A7.0,7.0 0 0 0 547.3,298.5A6.4,6.4 0 0 0 557.5,300.4A4.2,4.2 0 0 0 563.9,302.8A5.2,5.2 0 0 0 572.0,305.0" fill="none" stroke="#000" stroke-width="1.25" stroke-linejoin="round"/>
<path d="M506.0,334.0A5.7,5.7 0 0 1 507.5,325.0A7.0,7.0 0 0 1 509.4,313.9A6.7,6.7 0 0 1 518.6,308.2A7.2,7.2 0 0 1 530.1,306.3A5.3,5.3 0 0 1 538.5,307.5A7.4,7.4 0 0 1 550.0,310.6A5.5,5.5 0 0 1 558.6,312.7A8.6,8.6 0 0 1 572.0,309.0" fill="none" stroke="#000" stroke-width="1.25" stroke-linejoin="round"/>
<path d="M506.0,334.0A4.7,4.7 0 0 0 513.0,337.0A6.3,6.3 0 0 0 522.7,334.0A6.9,6.9 0 0 0 531.7,340.5A6.5,6.5 0 0 0 540.9,345.5A4.9,4.9 0 0 0 548.0,349.0" fill="none" stroke="#000" stroke-width="1.25" stroke-linejoin="round"/>
<path d="M420.0,276.0A5.6,5.6 0 0 1 425.8,283.0A4.3,4.3 0 0 1 430.7,287.9A6.1,6.1 0 0 1 438.5,293.8A5.9,5.9 0 0 1 447.5,296.7A5.6,5.6 0 0 1 456.3,299.1A5.7,5.7 0 0 1 464.6,302.9A6.0,6.0 0 0 1 473.4,307.0A4.7,4.7 0 0 1 480.5,309.5A4.8,4.8 0 0 1 487.9,311.7A3.9,3.9 0 0 1 492.7,315.9A5.6,5.6 0 0 1 496.0,324.4A6.0,6.0 0 0 1 496.0,334.0" fill="none" stroke="#000" stroke-width="1.25" stroke-linejoin="round"/>
<path d="M410.0,300.0A5.8,5.8 0 0 0 419.1,302.0A5.1,5.1 0 0 0 427.3,302.0A6.1,6.1 0 0 0 436.8,304.4A3.3,3.3 0 0 0 441.2,307.3A5.7,5.7 0 0 0 446.8,314.6A5.3,5.3 0 0 0 453.5,319.9A6.0,6.0 0 0 0 462.4,323.6A3.3,3.3 0 0 0 467.0,326.4A5.1,5.1 0 0 0 474.2,330.5A4.9,4.9 0 0 0 481.7,332.7A4.7,4.7 0 0 0 488.7,335.7A4.3,4.3 0 0 0 495.0,338.5" fill="none" stroke="#000" stroke-width="1.25" stroke-linejoin="round"/>
<path d="M549.0,36.0A5.2,5.2 0 0 1 558.3,36.3A4.4,4.4 0 0 1 566.0,38.2A3.7,3.7 0 0 1 572.6,39.3A6.6,6.6 0 0 1 584.3,40.0A6.1,6.1 0 0 1 595.1,38.9A5.3,5.3 0 0 1 604.6,37.9A6.0,6.0 0 0 1 615.2,39.6A4.6,4.6 0 0 1 623.3,41.2A6.6,6.6 0 0 1 635.0,41.9A4.4,4.4 0 0 1 642.7,40.4A6.0,6.0 0 0 1 652.7,36.7A5.8,5.8 0 0 1 662.9,38.3A5.7,5.7 0 0 1 672.4,41.9A5.3,5.3 0 0 1 681.5,39.4A3.9,3.9 0 0 1 688.5,40.2A4.3,4.3 0 0 1 695.7,43.1A6.1,6.1 0 0 1 705.6,38.8A3.9,3.9 0 0 1 711.7,35.4A6.0,6.0 0 0 1 721.4,40.0A6.1,6.1 0 0 1 731.5,35.8A3.2,3.2 0 0 1 736.8,33.9A6.2,6.2 0 0 1 747.9,33.3A4.0,4.0 0 0 1 754.3,36.3A3.3,3.3 0 0 1 759.0,40.0" fill="none" stroke="#000" stroke-width="1.25" stroke-linejoin="round"/>
<path d="M759.0,40.0A3.9,3.9 0 0 1 754.8,45.3A2.7,2.7 0 0 1 752.7,49.6A4.6,4.6 0 0 1 754.1,57.4A3.1,3.1 0 0 1 756.1,62.4A4.4,4.4 0 0 1 757.9,69.6A3.8,3.8 0 0 1 755.5,75.7A4.2,4.2 0 0 1 752.4,82.2A3.4,3.4 0 0 1 750.2,87.6A4.7,4.7 0 0 1 747.1,95.0A5.0,5.0 0 0 1 751.4,102.5A2.5,2.5 0 0 1 753.9,105.9A3.9,3.9 0 0 1 753.4,112.6A3.2,3.2 0 0 1 752.5,118.1A3.7,3.7 0 0 1 750.1,124.0A4.7,4.7 0 0 1 748.5,132.0A2.5,2.5 0 0 1 751.4,135.3A3.6,3.6 0 0 1 755.0,140.3A2.4,2.4 0 0 1 754.6,144.4A2.7,2.7 0 0 1 752.0,148.3A3.7,3.7 0 0 1 750.4,154.5A3.3,3.3 0 0 1 750.3,160.1A3.3,3.3 0 0 1 750.6,165.7A4.1,4.1 0 0 1 753.2,172.3A3.0,3.0 0 0 1 755.0,177.1A3.8,3.8 0 0 1 753.6,183.5A3.1,3.1 0 0 1 751.5,188.3A5.0,5.0 0 0 1 749.0,196.6A3.0,3.0 0 0 1 747.3,201.4A3.4,3.4 0 0 1 746.2,207.1A5.3,5.3 0 0 1 750.5,215.1A3.6,3.6 0 0 1 754.9,219.6A3.4,3.4 0 0 1 752.6,225.1A3.2,3.2 0 0 1 752.7,230.6A4.1,4.1 0 0 1 749.2,236.7A3.0,3.0 0 0 1 749.1,241.8A3.8,3.8 0 0 1 748.2,248.3A4.7,4.7 0 0 1 747.9,256.4A4.6,4.6 0 0 1 749.9,264.0A2.6,2.6 0 0 1 749.3,268.5A3.9,3.9 0 0 1 748.5,275.3A3.4,3.4 0 0 1 747.5,281.0A2.4,2.4 0 0 1 746.5,285.1A3.5,3.5 0 0 1 746.4,291.1A3.0,3.0 0 0 1 749.6,295.1A3.2,3.2 0 0 1 752.0,300.0" fill="none" stroke="#000" stroke-width="1.25" stroke-linejoin="round"/>
<path d="M752.0,300.0A3.7,3.7 0 0 1 748.2,305.1A5.1,5.1 0 0 1 740.7,309.7A3.6,3.6 0 0 1 734.8,311.7A6.0,6.0 0 0 1 725.5,316.3A5.9,5.9 0 0 1 717.6,322.8A3.5,3.5 0 0 1 711.9,325.2A3.9,3.9 0 0 1 705.3,325.3A5.8,5.8 0 0 1 695.4,326.6A3.9,3.9 0 0 1 688.7,326.9A6.3,6.3 0 0 1 677.9,328.0A5.3,5.3 0 0 1 668.9,326.2A5.5,5.5 0 0 1 659.6,324.5A6.7,6.7 0 0 1 648.2,323.0A4.7,4.7 0 0 1 640.2,321.7A6.2,6.2 0 0 1 629.5,320.3A4.6,4.6 0 0 1 621.6,320.3A4.4,4.4 0 0 1 614.0,319.7A4.3,4.3 0 0 1 607.2,316.6A4.5,4.5 0 0 1 600.5,312.9A5.2,5.2 0 0 1 593.0,308.1A5.4,5.4 0 0 1 584.2,305.3A4.9,4.9 0 0 1 575.6,305.2A2.2,2.2 0 0 1 572.0,304.0" fill="none" stroke="#000" stroke-width="1.25" stroke-linejoin="round"/>
<path d="M562.0,243.0A4.2,4.2 0 0 1 562.5,236.3A3.2,3.2 0 0 1 562.5,231.1A3.8,3.8 0 0 1 566.4,226.5A3.3,3.3 0 0 1 569.7,222.3A2.9,2.9 0 0 1 569.6,217.6A4.2,4.2 0 0 1 567.7,211.1A5.1,5.1 0 0 1 568.3,202.9A2.8,2.8 0 0 1 570.0,198.7A4.3,4.3 0 0 1 570.1,191.8A2.9,2.9 0 0 1 568.5,187.4A2.8,2.8 0 0 1 566.0,183.7A4.4,4.4 0 0 1 564.0,177.0A2.6,2.6 0 0 1 562.3,173.1A3.8,3.8 0 0 1 561.8,167.0A4.3,4.3 0 0 1 561.8,160.2A4.3,4.3 0 0 1 563.2,153.4A2.9,2.9 0 0 1 565.1,149.1A4.2,4.2 0 0 1 562.4,142.9A4.5,4.5 0 0 1 557.1,137.9A2.9,2.9 0 0 1 555.8,133.5A4.4,4.4 0 0 1 559.9,127.7A4.5,4.5 0 0 1 564.1,121.8A3.7,3.7 0 0 1 567.5,116.9A3.5,3.5 0 0 1 562.3,114.8A5.4,5.4 0 0 1 557.2,107.7A3.7,3.7 0 0 1 555.5,101.9A2.3,2.3 0 0 1 555.7,98.2A3.8,3.8 0 0 1 554.2,92.2A4.0,4.0 0 0 1 551.6,86.3A4.2,4.2 0 0 1 550.3,79.7A5.8,5.8 0 0 1 552.9,70.7A3.8,3.8 0 0 1 554.9,64.9A4.2,4.2 0 0 1 560.1,60.5A5.1,5.1 0 0 1 566.0,54.6A3.1,3.1 0 0 1 566.9,49.8A3.6,3.6 0 0 1 561.3,48.6A5.6,5.6 0 0 1 552.7,45.9A3.3,3.3 0 0 1 549.1,41.9A3.7,3.7 0 0 1 549.0,36.0" fill="none" stroke="#000" stroke-width="1.25" stroke-linejoin="round"/>
<path d="M572.0,309.0A4.5,4.5 0 0 1 575.7,315.2A5.9,5.9 0 0 1 583.8,320.1A5.1,5.1 0 0 1 591.7,322.4A5.9,5.9 0 0 1 600.9,324.3A5.7,5.7 0 0 1 609.9,326.3A7.7,7.7 0 0 1 621.9,328.9A5.2,5.2 0 0 1 630.3,330.2A6.2,6.2 0 0 1 640.1,331.6A4.5,4.5 0 0 1 647.0,334.0A4.8,4.8 0 0 1 654.6,335.6A5.7,5.7 0 0 1 663.7,336.8A7.5,7.5 0 0 1 675.4,340.0A6.0,6.0 0 0 1 685.0,339.4A6.8,6.8 0 0 1 695.9,340.4A6.1,6.1 0 0 1 705.8,340.3A3.8,3.8 0 0 1 711.9,340.4A7.8,7.8 0 0 1 724.3,338.4A6.6,6.6 0 0 1 734.8,337.4A5.6,5.6 0 0 1 743.8,338.3A4.5,4.5 0 0 1 748.3,344.1A6.0,6.0 0 0 1 739.6,348.4A6.2,6.2 0 0 1 730.0,351.4A6.0,6.0 0 0 1 720.5,352.9A7.0,7.0 0 0 1 709.2,352.1A5.1,5.1 0 0 1 701.0,352.0A6.3,6.3 0 0 1 690.9,350.9A5.6,5.6 0 0 1 681.9,351.2A4.1,4.1 0 0 1 675.3,351.8A4.4,4.4 0 0 1 668.1,352.4A7.9,7.9 0 0 1 655.5,351.1A3.5,3.5 0 0 1 650.0,350.0" fill="none" stroke="#000" stroke-width="1.25" stroke-linejoin="round"/>
<path d="M548.0,349.0A4.9,4.9 0 0 0 555.8,349.7A4.4,4.4 0 0 0 562.9,350.2A6.8,6.8 0 0 0 573.2,346.8A3.3,3.3 0 0 0 578.5,347.8A5.0,5.0 0 0 0 586.3,349.9A3.5,3.5 0 0 0 591.3,352.6A3.4,3.4 0 0 0 596.4,351.1A3.9,3.9 0 0 0 602.8,351.4A3.8,3.8 0 0 0 608.6,349.7A5.0,5.0 0 0 0 616.7,350.0A6.9,6.9 0 0 0 627.7,352.3A5.4,5.4 0 0 0 636.2,350.6A4.9,4.9 0 0 0 644.0,351.0A3.7,3.7 0 0 0 650.0,350.0" fill="none" stroke="#000" stroke-width="1.25" stroke-linejoin="round"/>
<path d="M598.0,366.0A4.7,4.7 0 0 1 599.0,358.5A5.9,5.9 0 0 1 606.6,352.8A3.9,3.9 0 0 1 613.0,352.8A5.6,5.6 0 0 1 621.8,355.0A3.6,3.6 0 0 1 627.4,356.5A5.1,5.1 0 0 1 634.9,353.3A3.8,3.8 0 0 1 641.0,353.7A4.5,4.5 0 0 1 647.2,357.5A4.8,4.8 0 0 1 643.4,364.3A6.7,6.7 0 0 1 633.4,368.4A4.2,4.2 0 0 1 626.9,370.2A6.3,6.3 0 0 1 617.6,374.1A5.1,5.1 0 0 1 610.6,378.4A6.2,6.2 0 0 1 602.5,372.7A5.0,5.0 0 0 1 598.0,366.0" fill="none" stroke="#000" stroke-width="1.25" stroke-linejoin="round"/>
<path d="M874.0,246.5A5.0,5.0 0 0 0 866.4,249.3A4.7,4.7 0 0 0 859.3,251.8A3.9,3.9 0 0 0 853.0,252.3A5.4,5.4 0 0 0 844.7,249.6A4.0,4.0 0 0 0 838.5,248.1A4.0,4.0 0 0 0 832.1,246.4A4.3,4.3 0 0 0 825.2,246.4A5.7,5.7 0 0 0 816.1,246.3A3.2,3.2 0 0 0 811.0,246.6A3.8,3.8 0 0 0 805.1,248.5A4.0,4.0 0 0 0 799.2,245.9A4.1,4.1 0 0 0 793.7,249.6A4.7,4.7 0 0 0 794.6,257.1A3.4,3.4 0 0 0 798.6,260.8A5.1,5.1 0 0 0 806.5,263.1A4.5,4.5 0 0 0 806.4,270.4A5.7,5.7 0 0 0 804.4,279.4A5.3,5.3 0 0 0 806.3,287.7A3.9,3.9 0 0 0 806.8,294.0A5.7,5.7 0 0 0 811.5,301.9A4.1,4.1 0 0 0 813.5,308.3A3.0,3.0 0 0 0 814.9,313.0A4.1,4.1 0 0 0 817.9,318.8A3.0,3.0 0 0 0 820.1,323.2A5.8,5.8 0 0 0 825.9,330.5A3.6,3.6 0 0 0 822.3,335.0A3.0,3.0 0 0 0 818.2,337.6A2.8,2.8 0 0 0 816.0,341.6A4.0,4.0 0 0 0 818.8,347.4A4.8,4.8 0 0 0 825.3,351.7A3.7,3.7 0 0 0 831.2,351.9A3.4,3.4 0 0 0 836.7,351.7A4.5,4.5 0 0 0 844.0,352.2A2.5,2.5 0 0 0 848.1,352.1A4.7,4.7 0 0 0 855.5,353.5A4.9,4.9 0 0 0 863.2,351.9A3.8,3.8 0 0 0 869.1,354.0A3.3,3.3 0 0 0 874.0,356.0" fill="none" stroke="#000" stroke-width="1.25" stroke-linejoin="round"/>
<path d="M620.0,387.5A4.6,4.6 0 0 1 625.2,382.2A3.3,3.3 0 0 1 628.9,378.5A4.4,4.4 0 0 1 634.1,373.7A3.9,3.9 0 0 1 639.3,370.3A4.9,4.9 0 0 1 645.8,366.0A3.0,3.0 0 0 1 650.7,365.4A3.7,3.7 0 0 1 656.2,367.6A4.7,4.7 0 0 1 663.7,368.4A2.4,2.4 0 0 1 667.4,369.7A3.2,3.2 0 0 1 672.5,369.3A4.3,4.3 0 0 1 679.3,367.9A5.2,5.2 0 0 1 687.3,365.3A3.2,3.2 0 0 1 691.9,367.7A4.2,4.2 0 0 1 695.2,373.6A5.6,5.6 0 0 1 694.4,382.6A5.7,5.7 0 0 1 697.9,391.1A4.9,4.9 0 0 1 701.4,398.2A3.2,3.2 0 0 1 701.8,403.5A4.0,4.0 0 0 1 700.4,409.8A4.8,4.8 0 0 1 701.2,417.5A5.5,5.5 0 0 1 699.4,426.2A2.3,2.3 0 0 1 698.0,429.7A4.3,4.3 0 0 1 693.8,435.3A4.7,4.7 0 0 1 691.1,442.4A4.5,4.5 0 0 1 690.4,449.7A4.9,4.9 0 0 1 697.7,452.9A4.6,4.6 0 0 1 705.0,454.1A3.7,3.7 0 0 1 711.0,454.0A4.8,4.8 0 0 1 718.5,452.5A6.0,6.0 0 0 1 727.6,455.7A2.9,2.9 0 0 1 732.2,456.4A3.9,3.9 0 0 1 736.2,461.2A3.5,3.5 0 0 1 739.4,465.8A4.3,4.3 0 0 1 743.1,471.6A4.9,4.9 0 0 1 745.3,479.1A2.4,2.4 0 0 1 742.4,481.8A5.1,5.1 0 0 1 735.1,485.5A5.4,5.4 0 0 1 733.4,494.1A5.4,5.4 0 0 1 740.4,499.4A3.6,3.6 0 0 1 741.8,505.0A3.1,3.1 0 0 1 739.8,509.6A5.7,5.7 0 0 1 730.8,511.4A4.7,4.7 0 0 1 723.6,513.9A4.8,4.8 0 0 1 716.0,515.7A4.5,4.5 0 0 1 709.2,518.1A3.4,3.4 0 0 1 703.6,518.3A4.7,4.7 0 0 1 697.0,521.7A4.0,4.0 0 0 1 694.0,527.6A4.7,4.7 0 0 1 686.6,529.1A2.9,2.9 0 0 1 681.9,529.8A4.3,4.3 0 0 1 675.3,527.7A3.0,3.0 0 0 1 672.1,524.2A4.1,4.1 0 0 1 667.1,520.0A4.7,4.7 0 0 1 662.1,514.3A3.3,3.3 0 0 1 660.1,509.3A5.6,5.6 0 0 1 662.4,500.5A4.7,4.7 0 0 1 659.9,493.4A5.3,5.3 0 0 1 655.6,486.0A3.8,3.8 0 0 1 653.1,480.5A4.1,4.1 0 0 1 649.9,474.8A4.1,4.1 0 0 1 645.7,469.6A5.6,5.6 0 0 1 646.7,460.6A6.0,6.0 0 0 1 646.9,451.0A3.7,3.7 0 0 1 643.0,446.5A3.7,3.7 0 0 1 639.0,442.0A6.0,6.0 0 0 1 631.4,436.1A4.4,4.4 0 0 1 626.8,430.7A5.4,5.4 0 0 1 624.9,422.3A2.9,2.9 0 0 1 622.9,418.0A3.8,3.8 0 0 1 621.0,412.2A5.3,5.3 0 0 1 618.0,404.2A4.0,4.0 0 0 1 615.4,398.2A5.3,5.3 0 0 1 614.3,389.8A3.8,3.8 0 0 1 620.0,387.5" fill="none" stroke="#000" stroke-width="1.00" stroke-linejoin="round"/>
<g fill="none" stroke="#6f6f6f" stroke-width="0.6">
<path d="M523,158h18v20h-18z"/><circle cx="526.5" cy="171" r="2.2"/><path d="M512,160a22,22 0 0 0 32,28"/><path d="M536,148l12,4l5,12"/>
</g>
<circle cx="243.8" cy="173.6" r="8.3" fill="#000"/>
<circle cx="242.0" cy="172.0" r="8.3" fill="url(#gBlue)" stroke="#0b2a8a" stroke-width="0.8"/>
<circle cx="416.3" cy="182.4" r="8.4" fill="#000"/>
<circle cx="414.7" cy="181.0" r="8.4" fill="url(#gRed)" stroke="#a01030" stroke-width="0.8"/>
<path d="M531.5,152.3H544L549,158L552.5,173" fill="none" stroke="#222" stroke-width="0.9"/>
<path d="M533,154.2H543L547.3,159L550.5,173" fill="none" stroke="#444" stroke-width="0.6"/>
<circle cx="520.5" cy="193.7" r="36" fill="#000"/>
<circle cx="517.5" cy="189.7" r="36" fill="url(#gGreen)" stroke="#1c3c24" stroke-width="0.6"/>
<g fill="none" stroke="#2f5f34" stroke-width="0.8" opacity="0.75">
<path d="M538,160H521.5Q518.5,160 518.5,163V176.5Q518.5,179.5 521.5,179.5H538"/><circle cx="527" cy="171.2" r="2"/><path d="M510,166a18,18 0 0 0 34,14"/><path d="M539,160V214M544.7,163V207M490,160.5H513M490,168H513"/>
</g>
<path d="M490,161V168M492.500,161V168M495,161V168M497.5,161V168M500,161V168M502.5,161V168M505,161V168M507.5,161V168M510,161V168" fill="none" stroke="#3d6d3a" stroke-width="0.6" opacity="0.7"/>
<circle cx="686.0" cy="410.0" r="24.8" fill="#000"/>
<circle cx="679.0" cy="405.0" r="24.8" fill="url(#gBlue)" stroke="#f0b890" stroke-width="0.8"/>
<path d="M44,45H247.5M221,40V142M242.5,40V172" fill="none" stroke="#111" stroke-width="1.30"/>
<path d="M371,80H527.5M522.5,75V155.6L511,170.4H484" fill="none" stroke="#111" stroke-width="1.30"/>
<path d="M482.3,184Q486,196 499,207.5Q514,219.5 535.7,220.5L547,212" fill="none" stroke="#111" stroke-width="1.60"/>
<path d="M536.3,192V420M305,406.7H545" fill="none" stroke="#111" stroke-width="1.30"/>
<path d="M189,320.5H420M414.7,181V324" fill="none" stroke="#111" stroke-width="1.30"/>
<path d="M450,463.5H686M679,405V470" fill="none" stroke="#111" stroke-width="1.30"/>
<circle cx="242.5" cy="172.0" r="1.1" fill="#111"/>
<circle cx="414.7" cy="181.0" r="1.1" fill="#111"/>
<circle cx="536.3" cy="192.0" r="1.1" fill="#111"/>
<circle cx="679.0" cy="405.0" r="1.1" fill="#111"/>
<circle cx="221.0" cy="142.0" r="1.1" fill="#111"/>
<g class="ann">
<text x="48.0" y="43.6" font-size="8.70" font-weight="bold" text-anchor="start" fill="#111" textLength="121.5" lengthAdjust="spacingAndGlyphs" >PROVIDE ADULT FITNESS</text>
<text x="48.0" y="53.6" font-size="8.70" font-weight="bold" text-anchor="start" fill="#111" textLength="132.0" lengthAdjust="spacingAndGlyphs" >AREA WITH ADA ACCESS &amp;</text>
<text x="48.0" y="63.4" font-size="8.70" font-weight="bold" text-anchor="start" fill="#111" textLength="125.0" lengthAdjust="spacingAndGlyphs" >EXPAND SAFETY FENCING</text>
<text x="376.0" y="78.6" font-size="8.70" font-weight="bold" text-anchor="start" fill="#111" textLength="118.0" lengthAdjust="spacingAndGlyphs" >EXPAND PARKING LOT -</text>
<text x="376.0" y="88.6" font-size="8.70" font-weight="bold" text-anchor="start" fill="#111" textLength="125.0" lengthAdjust="spacingAndGlyphs" >SIZE OF PARKING LOT TO</text>
<text x="376.0" y="98.4" font-size="8.70" font-weight="bold" text-anchor="start" fill="#111" textLength="95.0" lengthAdjust="spacingAndGlyphs" >BE DETERMINED BY</text>
<text x="376.0" y="108.2" font-size="8.70" font-weight="bold" text-anchor="start" fill="#111" textLength="81.5" lengthAdjust="spacingAndGlyphs" >FORMAL STUDY -</text>
<text x="376.0" y="118.0" font-size="8.70" font-weight="bold" text-anchor="start" fill="#111" textLength="128.0" lengthAdjust="spacingAndGlyphs" >CONDUCTED SUMMER 2014</text>
<text x="195.0" y="319.1" font-size="8.70" font-weight="bold" text-anchor="start" fill="#111" textLength="107.5" lengthAdjust="spacingAndGlyphs" >RELOCATE PORTABLE</text>
<text x="195.0" y="329.1" font-size="8.70" font-weight="bold" text-anchor="start" fill="#111" textLength="112.5" lengthAdjust="spacingAndGlyphs" >RESTROOM STRUCTURE,</text>
<text x="195.0" y="338.9" font-size="8.70" font-weight="bold" text-anchor="start" fill="#111" textLength="134.5" lengthAdjust="spacingAndGlyphs" >PROVIDE DEFINED SERVICE</text>
<text x="195.0" y="348.7" font-size="8.70" font-weight="bold" text-anchor="start" fill="#111" textLength="120.0" lengthAdjust="spacingAndGlyphs" >ACCESS &amp; EXPAND BIKE</text>
<text x="195.0" y="358.5" font-size="8.70" font-weight="bold" text-anchor="start" fill="#111" textLength="59.0" lengthAdjust="spacingAndGlyphs" >RACK AREA</text>
<text x="309.0" y="405.3" font-size="8.70" font-weight="bold" text-anchor="start" fill="#111" textLength="111.0" lengthAdjust="spacingAndGlyphs" >PROVIDE FENCED DOG</text>
<text x="309.0" y="415.3" font-size="8.70" font-weight="bold" text-anchor="start" fill="#111" textLength="124.0" lengthAdjust="spacingAndGlyphs" >PARK WITH ADA ACCESS,</text>
<text x="309.0" y="425.1" font-size="8.70" font-weight="bold" text-anchor="start" fill="#111" textLength="122.0" lengthAdjust="spacingAndGlyphs" >SIGNAGE AND DUAL SIDE</text>
<text x="309.0" y="434.9" font-size="8.70" font-weight="bold" text-anchor="start" fill="#111" textLength="117.0" lengthAdjust="spacingAndGlyphs" >BY SIDE ENTRANCES TO</text>
<text x="309.0" y="444.7" font-size="8.70" font-weight="bold" text-anchor="start" fill="#111" textLength="94.0" lengthAdjust="spacingAndGlyphs" >PREVENT CONFLICT</text>
<text x="456.0" y="462.1" font-size="8.70" font-weight="bold" text-anchor="start" fill="#111" textLength="98.0" lengthAdjust="spacingAndGlyphs" >EXPAND COMMUNITY</text>
<text x="456.0" y="472.1" font-size="8.70" font-weight="bold" text-anchor="start" fill="#111" textLength="41.5" lengthAdjust="spacingAndGlyphs" >GARDEN</text>
</g>
<text x="341.0" y="136.0" font-size="7.40" font-weight="normal" text-anchor="start" fill="#222" textLength="51.0" lengthAdjust="spacingAndGlyphs" >West 17th  Ave</text>
<text x="566.0" y="30.8" font-size="7.40" font-weight="normal" text-anchor="start" fill="#222" textLength="51.0" lengthAdjust="spacingAndGlyphs" >West 16th  Ave</text>
<text x="420.0" y="352.3" font-size="7.40" font-weight="normal" text-anchor="start" fill="#222" textLength="51.0" lengthAdjust="spacingAndGlyphs" >West 19th  Ave</text>
<text x="659.0" y="363.8" font-size="7.40" font-weight="normal" text-anchor="start" fill="#222" textLength="51.0" lengthAdjust="spacingAndGlyphs" >West 19th  Ave</text>
<text x="0.0" y="0.0" font-size="7.40" font-weight="normal" text-anchor="start" fill="#222" textLength="52.0" lengthAdjust="spacingAndGlyphs" transform="translate(230,277.5) rotate(22.5)">West 18th  Ave</text>
<text x="0.0" y="0.0" font-size="7.40" font-weight="normal" text-anchor="start" fill="#222" textLength="36.5" lengthAdjust="spacingAndGlyphs" transform="translate(175,312.5) rotate(-90)">Arctic Blvd</text>
<text x="0.0" y="0.0" font-size="7.40" font-weight="normal" text-anchor="start" fill="#222" textLength="46.5" lengthAdjust="spacingAndGlyphs" transform="translate(58,332.5) rotate(-90)">Bunker Street</text>
<text x="0.0" y="0.0" font-size="7.40" font-weight="normal" text-anchor="start" fill="#222" textLength="25.7" lengthAdjust="spacingAndGlyphs" transform="translate(533.5,61) rotate(90)">E Street</text>
<text x="0.0" y="0.0" font-size="7.40" font-weight="normal" text-anchor="start" fill="#222" textLength="26.5" lengthAdjust="spacingAndGlyphs" transform="translate(769.3,262.5) rotate(-90.5)">C Street</text>
<rect x="25" y="537.3" width="24.9" height="34.7" fill="#080808"/>
<path d="M38,539.5V570" stroke="#5a5a5a" stroke-width="0.5"/>
<path d="M33.6,548.7L36.9,546.3M32,553.4L37.5,551M31.3,556L37.5,553.4M30,559.6L37,556M29,563L36.7,558.9" fill="none" stroke="#7be04a" stroke-width="1.25" stroke-linecap="round"/>
<path d="M36.6,559V563Q36.6,566 33,566.3L29.5,566.6" fill="none" stroke="#7be04a" stroke-width="1.3" stroke-linecap="round"/>
<path d="M36,550.9Q38.5,549.9 40.4,551Q42,552.2 42.6,553.8M44.9,546Q45.6,549.5 44.2,552Q43.4,553.4 42.6,554.2M42.6,554.2Q46,554.2 48.8,557.3M42.6,554.2Q39.5,555.3 35.6,558.8" fill="none" stroke="#fff" stroke-width="1.0" stroke-linecap="round"/>
<circle cx="40.6" cy="548" r="1.35" fill="#fff"/>
<text x="27.0" y="544.6" font-size="2.30" font-weight="normal" text-anchor="start" fill="#c8c8c8" textLength="7.5" lengthAdjust="spacingAndGlyphs" >Healthy</text>
<text x="27.0" y="548.2" font-size="2.30" font-weight="normal" text-anchor="start" fill="#c8c8c8" textLength="5.2" lengthAdjust="spacingAndGlyphs" >Parks</text>
<text x="39.3" y="561.3" font-size="2.30" font-weight="normal" text-anchor="start" fill="#c8c8c8" textLength="7.5" lengthAdjust="spacingAndGlyphs" >Healthy</text>
<text x="39.3" y="564.9" font-size="2.30" font-weight="normal" text-anchor="start" fill="#c8c8c8" textLength="6.6" lengthAdjust="spacingAndGlyphs" >People</text>
<text x="61.3" y="551.3" font-size="17.60" font-weight="normal" text-anchor="start" fill="#111" textLength="226.5" lengthAdjust="spacingAndGlyphs" >Valley of the Moon Park</text>
<text x="300.7" y="552.0" font-size="13.00" font-weight="normal" text-anchor="start" fill="#111" textLength="142.6" lengthAdjust="spacingAndGlyphs" >Preferred Alternative</text>
<text x="61.5" y="569.4" font-size="9.00" font-weight="normal" text-anchor="start" fill="#222" textLength="81.5" lengthAdjust="spacingAndGlyphs" >Anchorage Alaska</text>
<text x="159.0" y="569.4" font-size="6.60" font-weight="normal" text-anchor="start" fill="#222" textLength="28.8" lengthAdjust="spacingAndGlyphs" >5.21.2014</text>
<path d="M716,551H729V557.7H742V551H768V557.7H794V551H846" fill="none" stroke="#000" stroke-width="2.4"/>
<text x="714.5" y="548.4" font-size="5.20" font-weight="normal" text-anchor="start" fill="#222" >0'</text>
<text x="740.0" y="548.4" font-size="5.20" font-weight="normal" text-anchor="start" fill="#222" >80'</text>
<text x="791.0" y="548.4" font-size="5.20" font-weight="normal" text-anchor="start" fill="#222" >240'</text>
<text x="840.0" y="548.4" font-size="5.20" font-weight="normal" text-anchor="start" fill="#222" >400'</text>
<text x="725.0" y="565.0" font-size="5.20" font-weight="normal" text-anchor="start" fill="#222" >40'</text>
<text x="765.0" y="565.0" font-size="5.20" font-weight="normal" text-anchor="start" fill="#222" >160'</text>
<rect x="856.7" y="544.4" width="20" height="19" fill="#000"/>
<path d="M866.7,563V547.5M858.8,554.8L866.7,546.6L874.6,554.8" fill="none" stroke="#fff" stroke-width="2.1" stroke-linejoin="miter"/>
<text x="857.2" y="570.0" font-size="4.60" font-weight="normal" text-anchor="start" fill="#111" textLength="19.0" lengthAdjust="spacingAndGlyphs" >NORTH</text>
</svg></body></html>
